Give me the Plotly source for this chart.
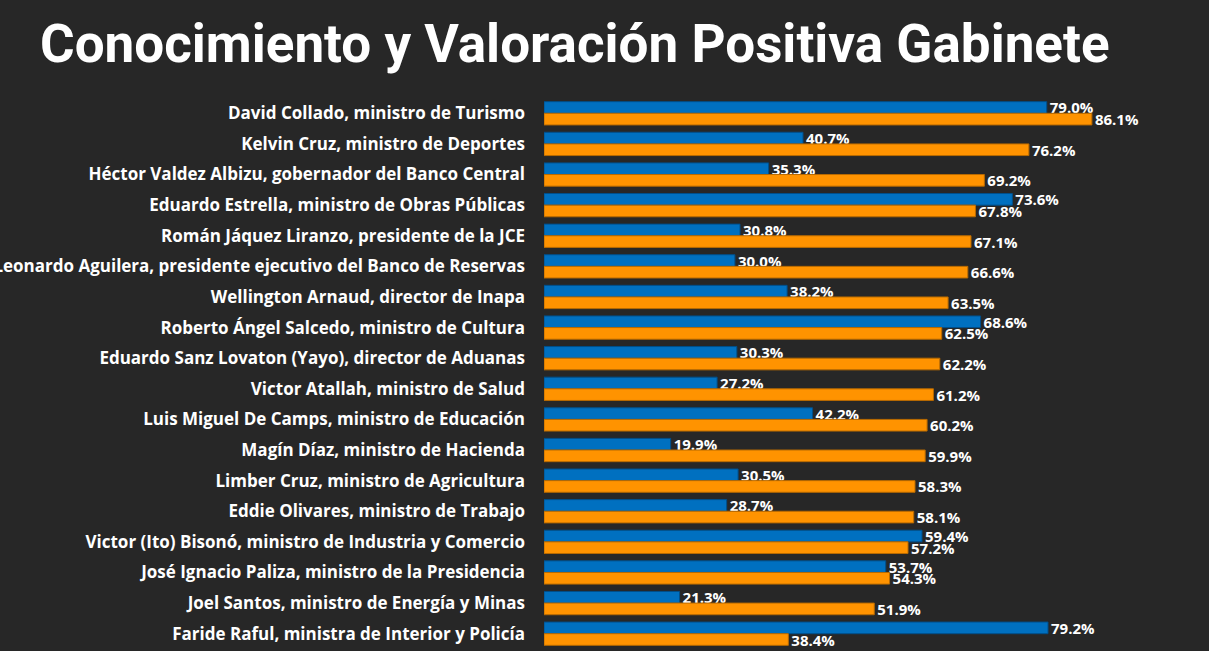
import plotly.graph_objects as go

names = [
    "David Collado, ministro de Turismo",
    "Kelvin Cruz, ministro de Deportes",
    "Héctor Valdez Albizu, gobernador del Banco Central",
    "Eduardo Estrella, ministro de Obras Públicas",
    "Román Jáquez Liranzo, presidente de la JCE",
    "Leonardo Aguilera, presidente ejecutivo del Banco de Reservas",
    "Wellington Arnaud, director de Inapa",
    "Roberto Ángel Salcedo, ministro de Cultura",
    "Eduardo Sanz Lovaton (Yayo), director de Aduanas",
    "Victor Atallah, ministro de Salud",
    "Luis Miguel De Camps, ministro de Educación",
    "Magín Díaz, ministro de Hacienda",
    "Limber Cruz, ministro de Agricultura",
    "Eddie Olivares, ministro de Trabajo",
    "Victor (Ito) Bisonó, ministro de Industria y Comercio",
    "José Ignacio Paliza, ministro de la Presidencia",
    "Joel Santos, ministro de Energía y Minas",
    "Faride Raful, ministra de Interior y Policía",
]

conocimiento = [79.0, 40.7, 35.3, 73.6, 30.8, 30.0, 38.2, 68.6, 30.3,
                27.2, 42.2, 19.9, 30.5, 28.7, 59.4, 53.7, 21.3, 79.2]
valoracion = [86.1, 76.2, 69.2, 67.8, 67.1, 66.6, 63.5, 62.5, 62.2,
              61.2, 60.2, 59.9, 58.3, 58.1, 57.2, 54.3, 51.9, 38.4]

fig = go.Figure()

fig.add_trace(go.Bar(
    y=names, x=conocimiento, orientation='h', name='Conocimiento',
    marker=dict(color='#0070C0', line=dict(color='#004F8A', width=1)),
    text=[f'{v:.1f}%' for v in conocimiento], textposition='outside',
    textfont=dict(color='white', size=15, family='Open Sans', weight='bold'),
    constraintext='none', cliponaxis=False,
))
fig.add_trace(go.Bar(
    y=names, x=valoracion, orientation='h', name='Valoración positiva',
    marker=dict(color='#FF9300', line=dict(color='#B86A00', width=1)),
    text=[f'{v:.1f}%' for v in valoracion], textposition='outside',
    textfont=dict(color='white', size=15, family='Open Sans', weight='bold'),
    constraintext='none', cliponaxis=False,
))

fig.update_layout(
    barmode='group', bargap=0.24, bargroupgap=0,
    showlegend=False,
    paper_bgcolor='#272727', plot_bgcolor='#272727',
    margin=dict(l=544, r=0, t=98, b=2),
    title=dict(text='<b>Conocimiento y Valoración Positiva Gabinete</b>',
               xref='container', x=40 / 1209, xanchor='left',
               yref='container', y=1 - 43 / 651, yanchor='middle',
               font=dict(color='white', size=53, family='Roboto')),
    xaxis=dict(range=[0, 104.5], visible=False, fixedrange=True),
    yaxis=dict(autorange='reversed', showgrid=False, zeroline=False,
               automargin=False, ticks='', ticklabelstandoff=18,
               tickfont=dict(color='white', size=17, family='Open Sans', weight='bold')),
)

# drop the page margin so the chart fills the whole window
fig.write_html("out.html", config={'displayModeBar': False}, post_script=(
    "document.body.style.margin='0';document.body.style.overflow='hidden';"
    "Plotly.Plots.resize(document.getElementById('{plot_id}'));"))
